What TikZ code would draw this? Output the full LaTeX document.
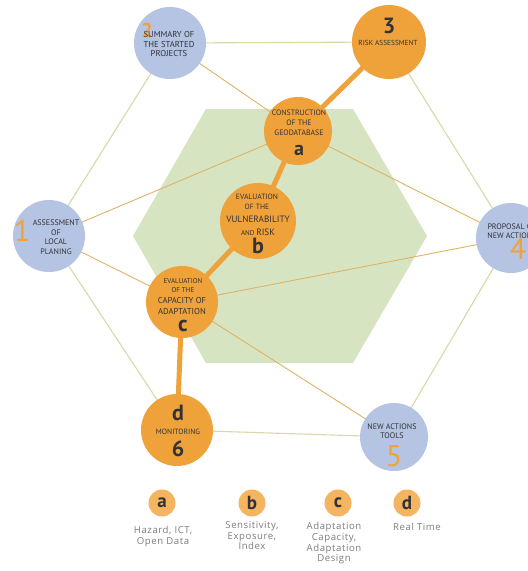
\documentclass[tikz,border=0pt]{standalone}
\usepackage{fontspec}
\setmainfont{PT Sans}
\newfontfamily\legfont[LetterSpace=6]{Open Sans}
\definecolor{orng}{RGB}{240,162,58}
\definecolor{blu}{RGB}{180,196,226}
\definecolor{grn}{RGB}{214,228,193}
\definecolor{hexl}{RGB}{218,216,168}
\definecolor{crossl}{RGB}{222,180,100}
\definecolor{txt}{RGB}{50,50,55}
\definecolor{legorng}{RGB}{244,180,96}
\definecolor{leggray}{RGB}{125,125,125}
\pgfdeclarelayer{bg}
\pgfdeclarelayer{lines}
\pgfsetlayers{bg,lines,main}
\tikzset{
  bluecirc/.style={circle, fill=blu, draw=none, inner sep=0pt},
  orcirc/.style={circle, fill=orng, draw=none, inner sep=0pt},
  legcirc/.style={circle, fill=legorng, draw=none, inner sep=0pt, minimum size=27pt},
  hexline/.style={draw=hexl, line width=1.1pt},
  crossline/.style={draw=crossl, line width=0.9pt},
  thickline/.style={draw=orng, line width=5pt},
  lbl/.style={text=txt, align=center, inner sep=0pt},
  numo/.style={text=orng, inner sep=0pt, font=\fontsize{30}{30}\selectfont},
  numb/.style={text=txt, inner sep=0pt, font=\bfseries\fontsize{22}{22}\selectfont},
  legtxt/.style={text=leggray, align=center, inner sep=0pt, anchor=north, font=\legfont\fontsize{9.6}{10.8}\selectfont},
}
\begin{document}
\begin{tikzpicture}[x=1pt,y=-1pt]
\useasboundingbox (0,0) rectangle (528,571);
\clip (0,0) rectangle (528,571);
% green hexagon
\begin{pgfonlayer}{bg}
\fill[white] (0,0) rectangle (528,571);
\fill[grn] (206,109) -- (353,109) -- (427,236) -- (353,363) -- (206,363) -- (133,236) -- cycle;
\end{pgfonlayer}
% circles
\node[bluecirc, minimum size=72pt] (n1) at (49,236) {};
\node[bluecirc, minimum size=72pt] (n2) at (170,43) {};
\node[orcirc, minimum size=74pt] (n3) at (389,42) {};
\node[bluecirc, minimum size=70pt] (n4) at (511,238) {};
\node[bluecirc, minimum size=68pt] (n5) at (394,437) {};
\node[orcirc, minimum size=72pt] (n6) at (177,430) {};
\node[orcirc, minimum size=68pt] (na) at (298,131) {};
\node[orcirc, minimum size=76pt] (nb) at (258,221) {};
\node[orcirc, minimum size=72pt] (nc) at (182,302) {};
% connectors
\begin{pgfonlayer}{lines}
\draw[hexline] (n1.center) -- (n2.center) -- (n3.center) -- (n4.center) -- (n5.center) -- (n6.center) -- (n1.center);
\draw[crossline] (n2.center) -- (na.center);
\draw[crossline] (na.center) -- (n1.center);
\draw[crossline] (na.center) -- (n4.center);
\draw[crossline] (n1.center) -- (nc.center);
\draw[crossline] (nc.center) -- (n4.center);
\draw[crossline] (nc.center) -- (n5.center);
\draw[thickline] (n3.center) -- (na.center);
\draw[thickline] (na.center) -- (nb.center);
\draw[thickline] (nb.center) -- (nc.center);
\draw[thickline] (nc.center) -- (n6.center);
\end{pgfonlayer}
% labels
\node[numo] (d1) at (22,231) {1};
\node[lbl, font=\fontsize{8}{9.6}\selectfont] (t1) at (56,237) {ASSESSMENT\\OF\\LOCAL\\PLANING};
\node[text=orng, inner sep=0pt, font=\bfseries\fontsize{20}{20}\selectfont] (d2) at (147,30) {2};
\node[lbl, font=\fontsize{8.6}{9.6}\selectfont] (t2) at (169,44) {SUMMARY OF\\THE STARTED\\PROJECTS};
\node[numb] (d3) at (389,26) {3};
\node[lbl, font=\fontsize{7.3}{8}\selectfont] (t3) at (388,43) {RISK ASSESSMENT};
\node[lbl, font=\fontsize{8}{8.6}\selectfont] (t4) at (512,231) {PROPOSAL OF\\NEW ACTIONS};
\node[numo] (d4) at (518,249) {4};
\node[lbl, font=\fontsize{8}{9}\selectfont] (t5) at (392,431) {NEW ACTIONS\\TOOLS};
\node[numo] (d5) at (394,456) {5};
\node[numb] (d6a) at (178,413) {d};
\node[lbl, font=\fontsize{7.6}{8}\selectfont] (t6) at (178,432) {MONITORING};
\node[numb] (d6) at (178,449) {6};
\node[lbl, font=\fontsize{7.8}{9.8}\selectfont] (ta) at (299,123) {CONSTRUCTION\\OF THE\\GEODATABASE};
\node[numb, font=\bfseries\fontsize{20}{20}\selectfont] (la) at (299,150) {a};
\node[lbl, font=\fontsize{7.6}{10}\selectfont] (tb1) at (257,202) {EVALUATION\\OF THE};
\node[lbl, font=\fontsize{9.2}{10}\selectfont] (tb2) at (258,219) {VULNERABILITY};
\node[lbl] (tb3) at (258,232) {\fontsize{7}{8}\selectfont AND \fontsize{9.2}{10}\selectfont RISK};
\node[numb] (lb) at (258,246) {b};
\node[lbl, font=\fontsize{7}{9}\selectfont] (tc1) at (183,285.5) {EVALUATION\\OF THE};
\node[lbl, font=\fontsize{8.6}{11}\selectfont] (tc2) at (182,305.5) {CAPACITY OF\\ADAPTATION};
\node[numb] (lc) at (183,326) {c};
% legend
\node[legcirc] (ka) at (162,503) {};
\node[legcirc] (kb) at (252,503) {};
\node[legcirc] (kc) at (338,503) {};
\node[legcirc] (kd) at (407,503) {};
\node[numb, font=\bfseries\fontsize{19}{19}\selectfont] at (ka) {a};
\node[numb, font=\bfseries\fontsize{19}{19}\selectfont] at (kb) {b};
\node[numb, font=\bfseries\fontsize{19}{19}\selectfont] at (kc) {c};
\node[numb, font=\bfseries\fontsize{19}{19}\selectfont] at (kd) {d};
\node[legtxt] (la2) at (163,526) {Hazard, ICT,\\Open Data};
\node[legtxt] (lb2) at (252,521) {Sensitivity,\\Exposure,\\Index};
\node[legtxt] (lc2) at (334,522) {Adaptation\\Capacity,\\Adaptation\\Design};
\node[legtxt] (ld2) at (417,523) {Real Time};
\end{tikzpicture}
\end{document}
